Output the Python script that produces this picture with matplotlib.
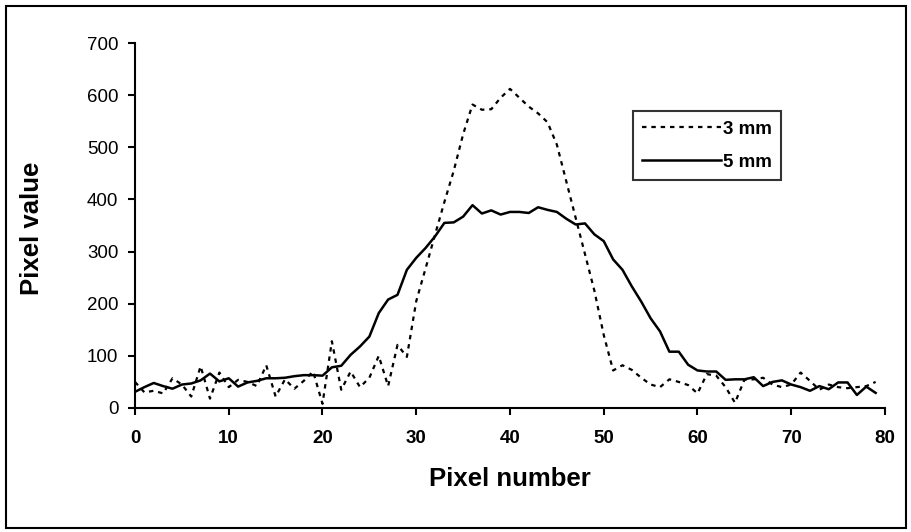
import numpy as np
import matplotlib
matplotlib.use('Agg')
import matplotlib.pyplot as plt
from matplotlib.patches import Rectangle

plt.rcParams['font.family'] = ['Liberation Sans', 'DejaVu Sans']

# Pixel profiles
pixel_number = np.arange(80)
profile_3mm = [50, 30, 33, 28, 57, 45, 22, 80, 18, 68,
               40, 54, 50, 42, 82, 22, 55, 37, 52, 70,
               8, 128, 35, 70, 40, 58, 100, 42, 121, 98,
               205, 268, 332, 395, 455, 525, 582, 572, 573, 595,
               612, 595, 578, 565, 548, 505, 435, 365, 295, 225,
               140, 72, 82, 73, 58, 45, 40, 55, 50, 44,
               28, 65, 62, 40, 10, 54, 55, 58, 45, 40,
               45, 68, 52, 35, 45, 40, 38, 40, 42, 50]
profile_5mm = [31, 40, 48, 42, 37, 45, 47, 53, 66, 51,
               57, 41, 49, 52, 57, 57, 58, 61, 63, 63,
               62, 78, 81, 102, 118, 137, 182, 208, 217, 265,
               288, 307, 329, 355, 356, 367, 389, 373, 379, 371,
               376, 376, 374, 385, 380, 376, 363, 352, 354, 333,
               320, 285, 265, 233, 204, 172, 147, 108, 108, 83,
               72, 70, 70, 54, 55, 55, 59, 42, 50, 53,
               45, 40, 33, 42, 36, 49, 49, 25, 41, 29]
series_labels = ['3 mm', '5 mm']
x_ticks = np.arange(0, 81, 10)
y_ticks = np.arange(0, 701, 100)

W, H = 912, 532
fig = plt.figure(figsize=(W / 100, H / 100), dpi=100)
ax = fig.add_axes([135 / W, 1 - 408 / H, 750 / W, 365 / H])

ax.plot(pixel_number, profile_3mm, color='black', lw=1.6,
        dashes=(2.0, 2.2), label=series_labels[0])
ax.plot(pixel_number, profile_5mm, color='black', lw=1.8,
        label=series_labels[1])

ax.set_xlim(0, 80)
ax.set_ylim(0, 700)
ax.set_xticks(x_ticks)
ax.set_yticks(y_ticks)
for s in ['top', 'right']:
    ax.spines[s].set_visible(False)
for s in ['left', 'bottom']:
    ax.spines[s].set_linewidth(1.5)
ax.tick_params(axis='both', direction='out', length=5, width=1.5,
               labelsize=13.5)
ax.tick_params(axis='y', pad=7)
ax.tick_params(axis='x', pad=11)
for lab in ax.get_xticklabels():
    lab.set_fontweight('bold')

fig.text(510 / W, 1 - 479 / H, 'Pixel number', ha='center', va='center',
         fontsize=18.5, fontweight='bold')
fig.text(32 / W, 1 - 228 / H, 'Pixel value', ha='center', va='center',
         rotation=90, fontsize=18.5, fontweight='bold')

leg = ax.legend(loc='upper left', bbox_to_anchor=(633 / W, 1 - 111 / H),
                bbox_transform=fig.transFigure, borderaxespad=0,
                fancybox=False, frameon=True, handlelength=4.2,
                handletextpad=0.1, labelspacing=0.85, borderpad=0.5,
                prop={'size': 13.5, 'weight': 'bold'})
leg.get_frame().set_edgecolor('black')
leg.get_frame().set_linewidth(1.5)

# outer chart border
fig.patches.append(Rectangle((6 / W, 1 - 528 / H), 900 / W, 522 / H,
                             transform=fig.transFigure, fill=False,
                             edgecolor='black', lw=1.5))

fig.savefig('out.png', dpi=100)
